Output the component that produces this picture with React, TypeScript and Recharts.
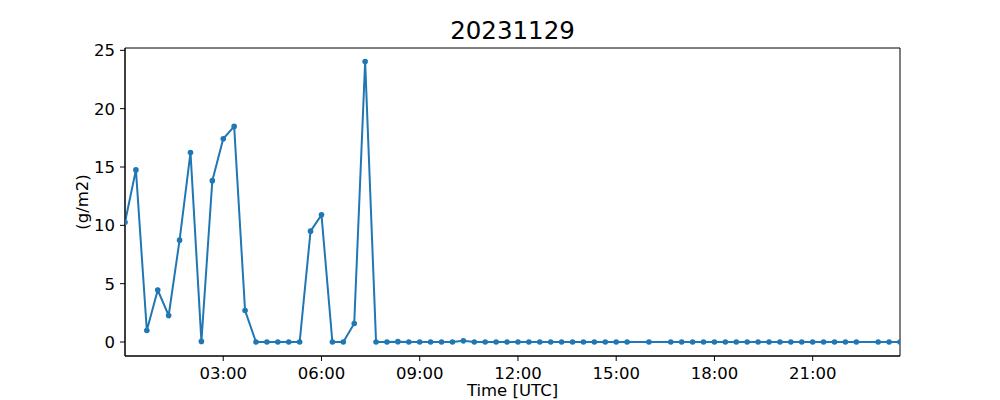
import React from 'react';
import { LineChart, Line, XAxis, YAxis, ReferenceArea, Label } from 'recharts';

const title = '20231129';
const xLabel = 'Time [UTC]';
const yLabel = '(g/m2)';

const timeLabels = [
  '00:00','00:20','00:40','01:00','01:20','01:40','02:00','02:20','02:40','03:00','03:20','03:40',
  '04:00','04:20','04:40','05:00','05:20','05:40','06:00','06:20','06:40','07:00','07:20','07:40',
  '08:00','08:20','08:40','09:00','09:20','09:40','10:00','10:20','10:40','11:00','11:20','11:40',
  '12:00','12:20','12:40','13:00','13:20','13:40','14:00','14:20','14:40','15:00','15:20',
  '16:00',
  '16:40','17:00','17:20','17:40','18:00','18:20','18:40','19:00','19:20','19:40','20:00','20:20',
  '20:40','21:00','21:20','21:40','22:00','22:20',
  '23:00','23:20','23:40',
];

const values = [
  10.27, 14.75, 0.98, 4.45, 2.27, 8.73, 16.24, 0.05, 13.83, 17.42, 18.48, 2.7,
  0, 0, 0, 0, 0, 9.5, 10.9, 0, 0, 1.58, 24.04, 0,
  0, 0.03, 0, 0, 0, 0, 0, 0.1, 0, 0, 0, 0,
  0, 0, 0, 0, 0, 0, 0, 0, 0, 0, 0,
  0,
  0, 0, 0, 0, 0, 0, 0, 0, 0, 0, 0, 0,
  0, 0, 0, 0, 0, 0,
  0, 0, 0,
];

const xTickHours = [3, 6, 9, 12, 15, 18, 21];
const yTicks = [0, 5, 10, 15, 20, 25];

const toHours = (s: string) => {
  const [h, m] = s.split(':').map(Number);
  return h + m / 60;
};

const data = timeLabels.map((t, i) => ({ t: toHours(t), v: values[i] }));

const xMin = data[0].t;
const xMax = data[data.length - 1].t;
const yMin = -1.2;
const yMax = 25.2;

const font = '"DejaVu Sans", sans-serif';
const color = '#1f77b4';

const fmt = (h: number) => `${String(Math.floor(h)).padStart(2, '0')}:00`;

export default function App() {
  return (
    <div style={{ position: 'absolute', left: 0, top: 0, width: 1000, height: 400, background: '#fff' }}>
      <LineChart
        width={1000}
        height={400}
        data={data}
        margin={{ top: 48, right: 100, bottom: 0, left: 0 }}
        style={{ fontFamily: font }}
      >
        <text x={512.5} y={39} textAnchor="middle" fontSize={24.5} fill="#000" fontFamily={font}>
          {title}
        </text>
        <XAxis
          dataKey="t"
          type="number"
          domain={[xMin, xMax]}
          ticks={xTickHours}
          tickFormatter={fmt}
          allowDataOverflow
          height={44}
          tickSize={5}
          tickMargin={6}
          stroke="#000"
          tick={{ fill: '#000', fontSize: 16.5, fontFamily: font }}
          tickLine={{ stroke: '#000' }}
          axisLine={{ stroke: '#000' }}
        >
          <Label
            content={({ viewBox }: any) => (
              <text
                x={viewBox.x + viewBox.width / 2}
                y={396}
                textAnchor="middle"
                fontSize={16.5}
                fill="#000"
                fontFamily={font}
              >
                {xLabel}
              </text>
            )}
          />
        </XAxis>
        <YAxis
          type="number"
          domain={[yMin, yMax]}
          ticks={yTicks}
          allowDataOverflow
          width={125}
          tickSize={5}
          tickMargin={5}
          stroke="#000"
          tick={{ fill: '#000', fontSize: 16.5, fontFamily: font }}
          tickLine={{ stroke: '#000' }}
          axisLine={{ stroke: '#000' }}
        >
          <Label
            content={({ viewBox }: any) => {
              const cx = 82;
              const cy = viewBox.y + viewBox.height / 2;
              return (
                <text
                  x={cx}
                  y={cy}
                  transform={`rotate(-90, ${cx}, ${cy})`}
                  textAnchor="middle"
                  dominantBaseline="central"
                  fontSize={16.5}
                  fill="#000"
                  fontFamily={font}
                >
                  {yLabel}
                </text>
              );
            }}
          />
        </YAxis>
        <ReferenceArea
          x1={xMin}
          x2={xMax}
          y1={yMin}
          y2={yMax}
          fill="none"
          fillOpacity={0}
          stroke="#000"
          strokeWidth={1}
          ifOverflow="visible"
        />
        <Line
          type="linear"
          dataKey="v"
          stroke={color}
          strokeWidth={2}
          dot={{ r: 2.8, fill: color, stroke: color, strokeWidth: 0 }}
          activeDot={false}
          isAnimationActive={false}
        />
      </LineChart>
    </div>
  );
}
